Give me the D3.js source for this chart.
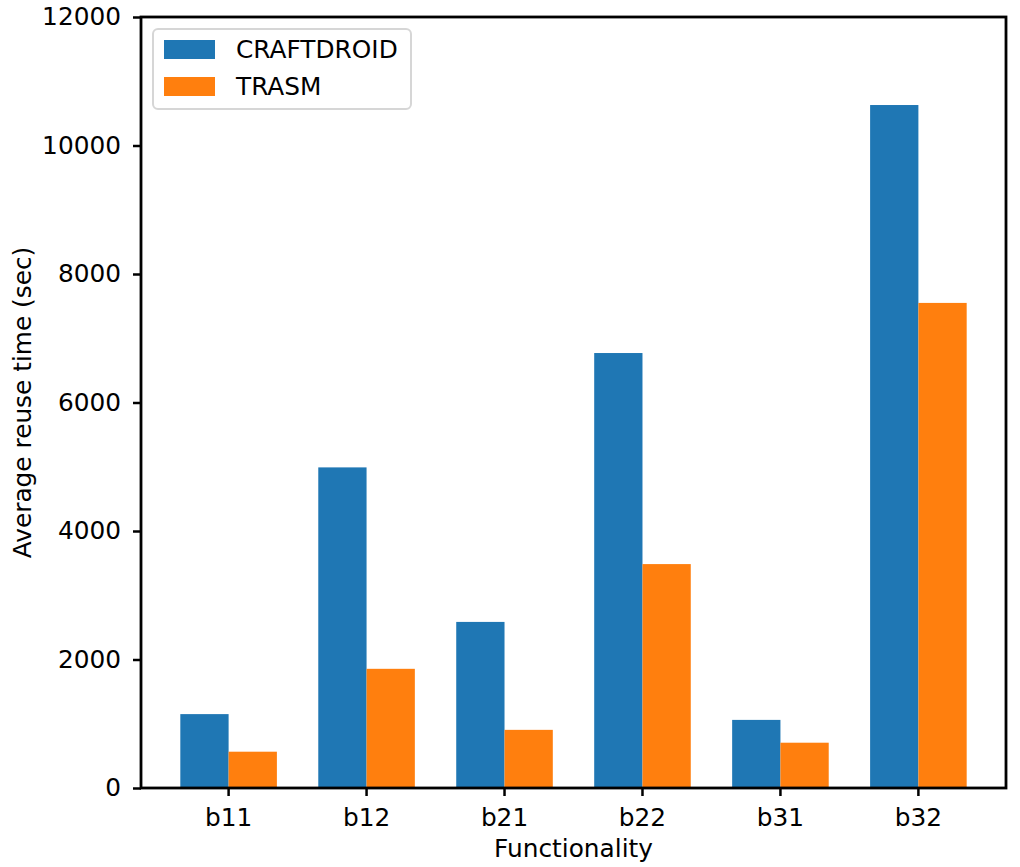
<!DOCTYPE html>
<html>
<head>
<meta charset="utf-8">
<script src="https://cdn.jsdelivr.net/npm/d3@7"></script>
<style>
  body { margin: 0; background: #fff; }
  text { font-family: "DejaVu Sans", sans-serif; }
</style>
</head>
<body>
<svg id="chart" width="1020" height="867"></svg>
<script>
// Chart data
const categories = ['b11', 'b12', 'b21', 'b22', 'b31', 'b32'];
const seriesNames = ['CRAFTDROID', 'TRASM'];
const craftdroid = [1150, 4990, 2585, 6770, 1060, 10630];
const trasm = [565, 1855, 905, 3485, 705, 7550];
const yTicks = [0, 2000, 4000, 6000, 8000, 10000, 12000];
const seriesColors = ['#1f77b4', '#ff7f0e'];

const seriesValues = [craftdroid, trasm];
const rows = categories.map((c, i) => ({ cat: c, values: seriesValues.map(s => s[i]) }));

const svg = d3.select('#chart');
const fontSize = 24.8;

// Plot frame (pixels)
const plotLeft = 141, plotRight = 1006, plotTop = 17, plotBottom = 788;

// Scales
const x0 = d3.scaleBand()
    .domain(categories)
    .range([plotLeft, plotRight])
    .paddingInner(0.3)
    .paddingOuter(0.285);

const x1 = d3.scaleBand()
    .domain(seriesNames)
    .range([0, x0.bandwidth()]);

const y = d3.scaleLinear().domain([0, 12000]).range([plotBottom, plotTop]);

// Bars
const groups = svg.append('g')
    .selectAll('g')
    .data(rows)
    .enter()
    .append('g')
    .attr('transform', d => `translate(${x0(d.cat)},0)`);

groups.selectAll('rect')
    .data(d => d.values.map((v, i) => ({ name: seriesNames[i], value: v, idx: i })))
    .enter()
    .append('rect')
    .attr('x', d => x1(d.name))
    .attr('width', x1.bandwidth())
    .attr('y', d => y(d.value))
    .attr('height', d => y(0) - y(d.value))
    .attr('fill', d => seriesColors[d.idx]);

// X axis
const xAxis = svg.append('g')
    .attr('transform', `translate(0,${plotBottom})`)
    .call(d3.axisBottom(x0).tickSize(8).tickPadding(12));
xAxis.select('.domain').remove();
xAxis.selectAll('line').attr('stroke', '#000').attr('stroke-width', 2.5);
xAxis.selectAll('text')
    .attr('fill', '#000')
    .style('font-size', fontSize + 'px')
    .style('font-family', '"DejaVu Sans", sans-serif');

// Y axis
const yAxis = svg.append('g')
    .attr('transform', `translate(${plotLeft},0)`)
    .call(d3.axisLeft(y).tickValues(yTicks).tickFormat(d3.format('d')).tickSize(8).tickPadding(12));
yAxis.select('.domain').remove();
yAxis.selectAll('line').attr('stroke', '#000').attr('stroke-width', 2.5);
yAxis.selectAll('text')
    .attr('fill', '#000')
    .style('font-size', fontSize + 'px')
    .style('font-family', '"DejaVu Sans", sans-serif');

// Frame (spines)
svg.append('rect')
    .attr('x', plotLeft)
    .attr('y', plotTop)
    .attr('width', plotRight - plotLeft)
    .attr('height', plotBottom - plotTop)
    .attr('fill', 'none')
    .attr('stroke', '#000')
    .attr('stroke-width', 2.8);

// Axis labels
svg.append('text')
    .attr('x', (plotLeft + plotRight) / 2)
    .attr('y', 857)
    .attr('text-anchor', 'middle')
    .style('font-size', fontSize + 'px')
    .text('Functionality');

svg.append('text')
    .attr('transform', `translate(31,${(plotTop + plotBottom) / 2}) rotate(-90)`)
    .attr('text-anchor', 'middle')
    .style('font-size', fontSize + 'px')
    .text('Average reuse time (sec)');

// Legend
const legend = svg.append('g');
legend.append('rect')
    .attr('x', 153)
    .attr('y', 29)
    .attr('width', 258)
    .attr('height', 80)
    .attr('rx', 5)
    .attr('fill', '#fff')
    .attr('fill-opacity', 0.8)
    .attr('stroke', '#d6d6d6')
    .attr('stroke-width', 2);

seriesNames.forEach((name, i) => {
    const ly = 40 + i * 37;
    legend.append('rect')
        .attr('x', 164)
        .attr('y', ly)
        .attr('width', 51)
        .attr('height', 19)
        .attr('fill', seriesColors[i]);
    legend.append('text')
        .attr('x', 236)
        .attr('y', ly + 18)
        .style('font-size', fontSize + 'px')
        .text(name);
});
</script>
</body>
</html>
